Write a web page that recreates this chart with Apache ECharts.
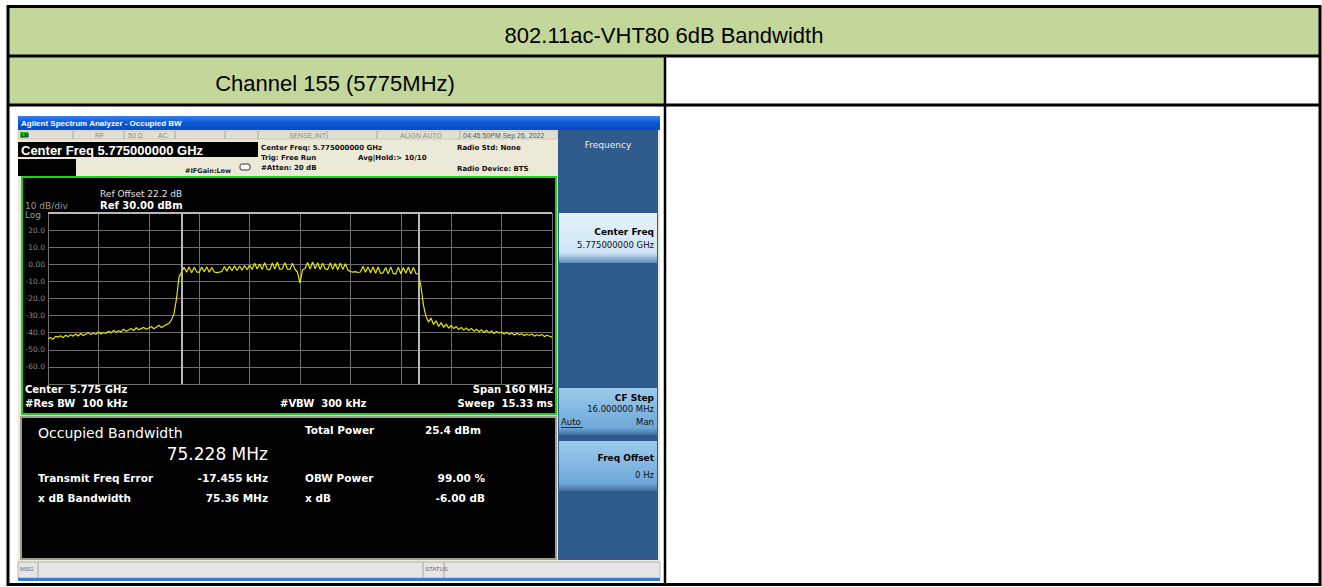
<!DOCTYPE html>
<html>
<head>
<meta charset="utf-8">
<script src="https://cdn.jsdelivr.net/npm/echarts@6/dist/echarts.min.js"></script>
<style>
html,body{margin:0;padding:0;background:#fff;}
#c{width:1322px;height:587px;}
</style>
</head>
<body>
<div id="c"></div>
<script>
// ---- data ----
var title = '802.11ac-VHT80 6dB Bandwidth';
var channelLabel = 'Channel 155 (5775MHz)';
var spanStartMHz = -80;          // offset from centre 5775 MHz
var spanStopMHz = 80;
var sweepStepMHz = 0.8;
var traceDbm = [
 -43.5,-42.8,-43.9,-42.1,-42.6,-41.8,-42.9,-41.5,-42.3,-41.2,
 -42.0,-40.8,-41.9,-40.5,-41.6,-40.9,-39.8,-41.1,-40.3,-40.9,
 -39.6,-40.7,-39.9,-40.4,-39.2,-40.1,-38.6,-39.8,-38.9,-39.5,
 -37.9,-39.2,-38.4,-37.5,-38.8,-37.1,-38.3,-37.6,-36.9,-38.0,
 -37.2,-36.4,-37.7,-36.8,-35.6,-37.0,-36.1,-35.3,-34.6,-32.5,
 -29.0,-20.0,-7.5,-4.5,-1.8,-4.6,-1.5,-4.9,-1.7,-4.4,
 -4.8,-1.6,-4.3,-1.4,-4.7,-1.9,-4.5,-4.9,-4.6,-4.2,
 -1.3,-4.0,-1.1,-3.8,-0.9,-3.6,-1.0,-3.5,-0.7,-3.2,
 -0.5,-3.0,0.6,-2.8,0.2,-3.1,1.0,-2.9,-3.3,0.8,
 -2.7,1.2,-3.0,-2.6,0.9,-2.8,-3.0,0.7,-2.9,-4.5,
 -11.0,-3.2,-2.5,1.0,-2.8,1.3,-2.6,0.9,-3.0,0.6,
 -2.7,-3.1,0.8,-2.9,0.5,-3.2,0.7,-3.0,0.4,-3.4,
 -4.2,-4.6,-4.3,-4.8,-4.5,-1.2,-4.6,-1.5,-4.9,-1.4,
 -5.2,-1.6,-5.4,-5.0,-1.8,-5.6,-1.5,-5.3,-5.7,-1.7,
 -5.5,-1.9,-5.2,-1.6,-5.6,-1.8,-5.4,-5.6,-13.0,-24.0,
 -30.5,-33.8,-31.5,-35.2,-33.0,-36.4,-34.1,-36.9,-35.0,-37.3,
 -35.8,-37.6,-36.4,-38.1,-36.9,-38.5,-37.2,-38.8,-37.5,-39.1,
 -38.0,-39.4,-38.2,-39.9,-38.6,-40.1,-39.0,-40.5,-39.3,-40.2,
 -39.6,-40.8,-39.7,-41.0,-40.1,-41.3,-40.4,-41.1,-40.6,-41.7,
 -40.9,-41.5,-40.8,-42.0,-41.2,-41.8,-41.0,-42.3,-41.5,-42.1,
 -42.6
];
var obwEdgesMHz = [-37.68, 37.68];   // x dB bandwidth 75.36 MHz
var yTickLabels = {'20':'20.0','10':'10.0','0':'0.00','-10':'-10.0','-20':'-20.0','-30':'-30.0','-40':'-40.0','-50':'-50.0','-60':'-60.0'};
var resultRows = [
  ['Transmit Freq Error','-17.455 kHz','OBW Power','99.00 %'],
  ['x dB Bandwidth','75.36 MHz','x dB','-6.00 dB']
];

// ---- build ----
var tracePairs = traceDbm.map(function(v,i){ return [spanStartMHz + i*sweepStepMHz, v]; });

var F = '"Liberation Sans", Arial, sans-serif';
var D = '"DejaVu Sans", Verdana, sans-serif';
var G = [];
function rect(x,y,w,h,fill,z,stroke,lw){
  G.push({type:'rect',shape:{x:x,y:y,width:w,height:h},style:{fill:fill,stroke:stroke||null,lineWidth:lw||0},z:z===undefined?-5:z,silent:true});
}
function line(x1,y1,x2,y2,color,w,z){
  G.push({type:'line',shape:{x1:x1,y1:y1,x2:x2,y2:y2},style:{stroke:color,lineWidth:w},z:z===undefined?20:z,silent:true});
}
function text(s,x,y,size,color,opts){
  opts=opts||{};
  G.push({type:'text',x:x,y:y,z:30,silent:true,style:{text:s,fill:color,font:(opts.bold?'bold ':'')+size+'px '+(opts.font||F),textAlign:opts.align||'left',textVerticalAlign:'middle'}});
}

// table
rect(8,7,1312,49,'#c4d79b',-10);
rect(8,56,657,49,'#c4d79b',-10);
line(8,56,1320,56,'#000',3);
line(8,105,1320,105,'#000',3);
line(665,56,665,585,'#000',2.5);
G.push({type:'rect',shape:{x:8,y:6.5,width:1312,height:578},style:{fill:null,stroke:'#000',lineWidth:3},z:25,silent:true});
text(title,664,35,22,'#000',{align:'center'});
text(channelLabel,335,83,22,'#000',{align:'center'});

// analyzer window
rect(18,116,642,465,'#ece9d8',-9);
G.push({type:'rect',shape:{x:18,y:116,width:642,height:14},style:{fill:new echarts.graphic.LinearGradient(0,0,0,1,[{offset:0,color:'#3a7ff2'},{offset:0.5,color:'#0a56d6'},{offset:1,color:'#0a4cc2'}])},z:-8,silent:true});
text('Agilent Spectrum Analyzer - Occupied BW',21,123,8,'#fff',{bold:true});
// status row
rect(18,131,539,8,'#e4e1d4',-8,'#b0ada0',0.5);
rect(20,132,8,6,'#1ec41e',-7);
text('LXI',21,135,5,'#000',{bold:true});
[73,124,175,225,258,327,377,460].forEach(function(x){ line(x,131,x,139,'#a8a59a',1,-6); });
text('RF',95,135,7,'#8a8a8a');
text('50 \u03a9',128,135,7,'#8a8a8a');
text('AC',158,135,7,'#8a8a8a');
text('SENSE:INT',289,135,7,'#8a8a8a');
text('ALIGN AUTO',400,135,7,'#8a8a8a');
text('04:45:50PM Sep 26, 2022',463,135,7,'#555');
// centre freq bar
rect(18,142,240,15,'#000',-7);
text('Center Freq 5.775000000 GHz',21,150,13,'#fff',{bold:true});
rect(18,159,58,17,'#000',-7);
text('#IFGain:Low',185,171,6.5,'#222',{bold:true,font:D});
text('Center Freq: 5.775000000 GHz',261,148,7,'#111',{bold:true,font:D});
text('Trig: Free Run',261,158,7,'#111',{bold:true,font:D});
text('Avg|Hold:> 10/10',358,158,7,'#111',{bold:true,font:D});
text('#Atten: 20 dB',261,168,7,'#111',{bold:true,font:D});
text('Radio Std: None',457,148,7,'#111',{bold:true,font:D});
text('Radio Device: BTS',457,169,7,'#111',{bold:true,font:D});
G.push({type:'rect',shape:{x:240,y:164,width:10,height:6,r:2},style:{fill:'#fff',stroke:'#333',lineWidth:1},z:-6,silent:true});

// right soft-key panel
rect(558,130,100,430,'#2f5b8c',-8);
text('Frequency',608,145,9,'#e8eef6',{align:'center',font:D});
G.push({type:'rect',shape:{x:559,y:213,width:98,height:50},style:{fill:new echarts.graphic.LinearGradient(0,0,0,1,[{offset:0,color:'#e6f2fb'},{offset:0.8,color:'#cfe5f5'},{offset:1,color:'#5c8db8'}])},z:-7,silent:true});
text('Center Freq',654,232,9,'#000',{bold:true,align:'right',font:D});
text('5.775000000 GHz',654,245,8.5,'#111',{align:'right',font:D});
G.push({type:'rect',shape:{x:559,y:388,width:98,height:47},style:{fill:new echarts.graphic.LinearGradient(0,0,0,1,[{offset:0,color:'#9ccbed'},{offset:0.85,color:'#6ea8d8'},{offset:1,color:'#3f6f9f'}])},z:-7,silent:true});
text('CF Step',654,398,9,'#000',{bold:true,align:'right',font:D});
text('16.000000 MHz',654,409,8.5,'#111',{align:'right',font:D});
text('Auto',561,422,8.5,'#111',{font:D});
line(561,427.5,583,427.5,'#111',0.8,30);
text('Man',654,422,8.5,'#111',{align:'right',font:D});
G.push({type:'rect',shape:{x:559,y:441,width:98,height:50},style:{fill:new echarts.graphic.LinearGradient(0,0,0,1,[{offset:0,color:'#9ccbed'},{offset:0.85,color:'#6ea8d8'},{offset:1,color:'#3f6f9f'}])},z:-7,silent:true});
text('Freq Offset',654,458,9,'#000',{bold:true,align:'right',font:D});
text('0 Hz',654,475,8.5,'#111',{align:'right',font:D});

// plot frame
rect(22,177,534,237,'#000',-7,'#19d219',2);
text('Ref Offset 22.2 dB',100,194,9,'#e0e0e0',{font:D});
text('Ref 30.00 dBm',100,205,10,'#fff',{bold:true,font:D});
text('10 dB/div',25,206,9,'#9a9a9a',{font:D});
text('Log',25,215,9,'#9a9a9a',{font:D});
text('Center  5.775 GHz',25,389,10,'#fff',{bold:true,font:D});
text('Span 160 MHz',553,389,10,'#fff',{bold:true,align:'right',font:D});
text('#Res BW  100 kHz',25,403,10,'#fff',{bold:true,font:D});
text('#VBW  300 kHz',280,403,10,'#fff',{bold:true,font:D});
text('Sweep  15.33 ms',553,403,10,'#fff',{bold:true,align:'right',font:D});

// results panel
rect(21,417,535,142,'#000',-7,'#a09d92',2);
text('Occupied Bandwidth',38,433,14,'#fff',{font:D});
text('75.228 MHz',268,454,17,'#fff',{align:'right',font:D});
text('Total Power',305,430,10.5,'#fff',{bold:true,font:D});
text('25.4 dBm',425,430,10.5,'#fff',{bold:true,font:D});
resultRows.forEach(function(r,k){
  var y=478+k*20;
  text(r[0],38,y,10.5,'#fff',{bold:true,font:D});
  text(r[1],268,y,10.5,'#fff',{bold:true,align:'right',font:D});
  text(r[2],305,y,10.5,'#fff',{bold:true,font:D});
  text(r[3],485,y,10.5,'#fff',{bold:true,align:'right',font:D});
});

// bottom status bar
rect(18,562,642,16,'#e6e4e4',-7,'#a8a8a8',0.8);
line(38,562,38,578,'#a8a8a8',1,-6);
line(423,562,423,578,'#a8a8a8',1,-6);
line(444,562,444,578,'#a8a8a8',1,-6);
text('MSG',20,569,6,'#666');
text('STATUS',425,569,6,'#666');
rect(18,578,642,3,'#3a78d8',-7);

var chart = echarts.init(document.getElementById('c'), null, {renderer:'svg'});
chart.setOption({
  animation:false,
  backgroundColor:'#fff',
  graphic:G,
  grid:{left:48,top:213,width:504,height:171,show:false},
  xAxis:{type:'value',min:spanStartMHz,max:spanStopMHz,interval:16,
    axisLine:{show:false},axisTick:{show:false},axisLabel:{show:false},
    splitLine:{show:true,lineStyle:{color:'#6e6e6e',width:1}}},
  yAxis:{type:'value',min:-70,max:30,interval:10,
    axisLine:{show:true,lineStyle:{color:'#6e6e6e'}},axisTick:{show:false},
    axisLabel:{show:true,margin:3,fontSize:7.5,color:'#8c8c8c',fontFamily:D,
      formatter:function(v){ return yTickLabels[String(v)]||''; }},
    splitLine:{show:true,lineStyle:{color:'#6e6e6e',width:1}}},
  series:[{
    type:'line',data:tracePairs,showSymbol:false,
    lineStyle:{color:'#e6e600',width:1.2},
    markLine:{silent:true,symbol:'none',label:{show:false},
      lineStyle:{color:'#b8b8b8',width:2,type:'solid'},
      data:[{xAxis:obwEdgesMHz[0]},{xAxis:obwEdgesMHz[1]},{yAxis:30}]}
  }]
});
</script>
</body>
</html>
